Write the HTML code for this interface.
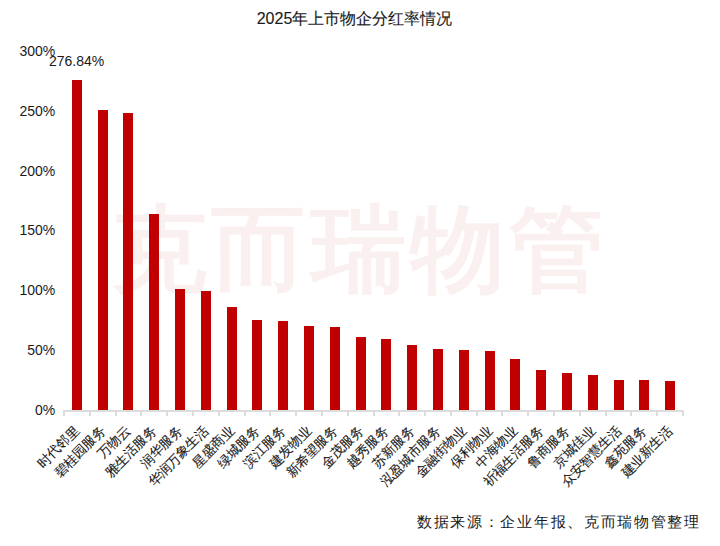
<!DOCTYPE html>
<html><head><meta charset="utf-8"><style>
html,body{margin:0;padding:0;background:#fff;width:720px;height:546px;overflow:hidden;position:relative}
body{font-family:"Liberation Sans",sans-serif;color:#1a1a1a;-webkit-text-stroke:0.12px #1a1a1a}
.wm{position:absolute;left:112px;top:189px;font-size:95px;line-height:120px;color:#fbf0f0;white-space:nowrap;letter-spacing:4.3px;font-weight:400;-webkit-text-stroke:2.5px #fbf0f0}
.title{position:absolute;left:0;width:709px;top:8.7px;text-align:center;font-size:16px;line-height:20px;white-space:nowrap}
.yl{-webkit-text-stroke:0;position:absolute;right:664.7px;height:40px;line-height:40px;font-size:14px;text-align:right;white-space:nowrap}
.bar{position:absolute;width:10.0px;background:#c00000}
.axis{position:absolute;height:2px;background:#dcdcdc}
.tick{position:absolute;top:410px;width:2px;height:6px;background:#dcdcdc}
.dl{-webkit-text-stroke:0;position:absolute;left:26.6px;width:100px;top:41px;height:40px;line-height:40px;text-align:center;font-size:14px;white-space:nowrap}
.xa{position:absolute;width:0;height:0}
.xa span{position:absolute;right:0;top:-10px;height:20px;line-height:20px;font-size:13.33px;white-space:nowrap;transform-origin:100% 50%;transform:rotate(-45deg)}
.src{-webkit-text-stroke:0;position:absolute;left:417px;top:512px;font-family:"Liberation Serif",serif;font-size:14.67px;line-height:20px;letter-spacing:1.7px;white-space:nowrap;color:#1a1a1a}
</style></head><body>
<div class="wm">克而瑞物管</div>
<div class="title">2025年上市物企分红率情况</div>
<div class="yl" style="top:389.50px">0%</div>
<div class="yl" style="top:329.75px">50%</div>
<div class="yl" style="top:270.00px">100%</div>
<div class="yl" style="top:210.25px">150%</div>
<div class="yl" style="top:150.50px">200%</div>
<div class="yl" style="top:90.75px">250%</div>
<div class="yl" style="top:31.00px">300%</div>
<div class="bar" style="left:71.90px;top:79.68px;height:330.82px"></div>
<div class="bar" style="left:97.69px;top:109.96px;height:300.54px"></div>
<div class="bar" style="left:123.48px;top:112.94px;height:297.56px"></div>
<div class="bar" style="left:149.27px;top:213.56px;height:196.94px"></div>
<div class="bar" style="left:175.06px;top:288.97px;height:121.53px"></div>
<div class="bar" style="left:200.85px;top:291.24px;height:119.26px"></div>
<div class="bar" style="left:226.65px;top:306.77px;height:103.73px"></div>
<div class="bar" style="left:252.44px;top:320.04px;height:90.46px"></div>
<div class="bar" style="left:278.23px;top:320.99px;height:89.51px"></div>
<div class="bar" style="left:304.02px;top:325.77px;height:84.73px"></div>
<div class="bar" style="left:329.81px;top:326.73px;height:83.77px"></div>
<div class="bar" style="left:355.60px;top:336.53px;height:73.97px"></div>
<div class="bar" style="left:381.40px;top:339.04px;height:71.46px"></div>
<div class="bar" style="left:407.19px;top:345.01px;height:65.49px"></div>
<div class="bar" style="left:432.98px;top:348.72px;height:61.78px"></div>
<div class="bar" style="left:458.77px;top:350.27px;height:60.23px"></div>
<div class="bar" style="left:484.56px;top:350.99px;height:59.51px"></div>
<div class="bar" style="left:510.35px;top:359.00px;height:51.50px"></div>
<div class="bar" style="left:536.15px;top:369.99px;height:40.51px"></div>
<div class="bar" style="left:561.94px;top:372.50px;height:38.00px"></div>
<div class="bar" style="left:587.73px;top:375.01px;height:35.49px"></div>
<div class="bar" style="left:613.52px;top:380.15px;height:30.35px"></div>
<div class="bar" style="left:639.31px;top:380.15px;height:30.35px"></div>
<div class="bar" style="left:665.10px;top:381.10px;height:29.40px"></div>
<div class="axis" style="left:63.00px;top:410px;width:621.00px"></div>
<div class="tick" style="left:63.00px"></div>
<div class="tick" style="left:88.79px"></div>
<div class="tick" style="left:114.58px"></div>
<div class="tick" style="left:140.38px"></div>
<div class="tick" style="left:166.17px"></div>
<div class="tick" style="left:191.96px"></div>
<div class="tick" style="left:217.75px"></div>
<div class="tick" style="left:243.54px"></div>
<div class="tick" style="left:269.33px"></div>
<div class="tick" style="left:295.12px"></div>
<div class="tick" style="left:320.92px"></div>
<div class="tick" style="left:346.71px"></div>
<div class="tick" style="left:372.50px"></div>
<div class="tick" style="left:398.29px"></div>
<div class="tick" style="left:424.08px"></div>
<div class="tick" style="left:449.88px"></div>
<div class="tick" style="left:475.67px"></div>
<div class="tick" style="left:501.46px"></div>
<div class="tick" style="left:527.25px"></div>
<div class="tick" style="left:553.04px"></div>
<div class="tick" style="left:578.83px"></div>
<div class="tick" style="left:604.62px"></div>
<div class="tick" style="left:630.42px"></div>
<div class="tick" style="left:656.21px"></div>
<div class="tick" style="left:682.00px"></div>
<div class="dl">276.84%</div>
<div class="xa" style="left:76.90px;top:429.10px"><span>时代邻里</span></div>
<div class="xa" style="left:102.69px;top:429.10px"><span>碧桂园服务</span></div>
<div class="xa" style="left:128.48px;top:429.10px"><span>万物云</span></div>
<div class="xa" style="left:154.27px;top:429.10px"><span>雅生活服务</span></div>
<div class="xa" style="left:180.06px;top:429.10px"><span>润华服务</span></div>
<div class="xa" style="left:205.85px;top:429.10px"><span>华润万象生活</span></div>
<div class="xa" style="left:231.65px;top:429.10px"><span>星盛商业</span></div>
<div class="xa" style="left:257.44px;top:429.10px"><span>绿城服务</span></div>
<div class="xa" style="left:283.23px;top:429.10px"><span>滨江服务</span></div>
<div class="xa" style="left:309.02px;top:429.10px"><span>建发物业</span></div>
<div class="xa" style="left:334.81px;top:429.10px"><span>新希望服务</span></div>
<div class="xa" style="left:360.60px;top:429.10px"><span>金茂服务</span></div>
<div class="xa" style="left:386.40px;top:429.10px"><span>越秀服务</span></div>
<div class="xa" style="left:412.19px;top:429.10px"><span>苏新服务</span></div>
<div class="xa" style="left:437.98px;top:429.10px"><span>泓盈城市服务</span></div>
<div class="xa" style="left:463.77px;top:429.10px"><span>金融街物业</span></div>
<div class="xa" style="left:489.56px;top:429.10px"><span>保利物业</span></div>
<div class="xa" style="left:515.35px;top:429.10px"><span>中海物业</span></div>
<div class="xa" style="left:541.15px;top:429.10px"><span>祈福生活服务</span></div>
<div class="xa" style="left:566.94px;top:429.10px"><span>鲁商服务</span></div>
<div class="xa" style="left:592.73px;top:429.10px"><span>京城佳业</span></div>
<div class="xa" style="left:618.52px;top:429.10px"><span>众安智慧生活</span></div>
<div class="xa" style="left:644.31px;top:429.10px"><span>鑫苑服务</span></div>
<div class="xa" style="left:670.10px;top:429.10px"><span>建业新生活</span></div>
<div class="src">数据来源：企业年报、克而瑞物管整理</div>
</body></html>
